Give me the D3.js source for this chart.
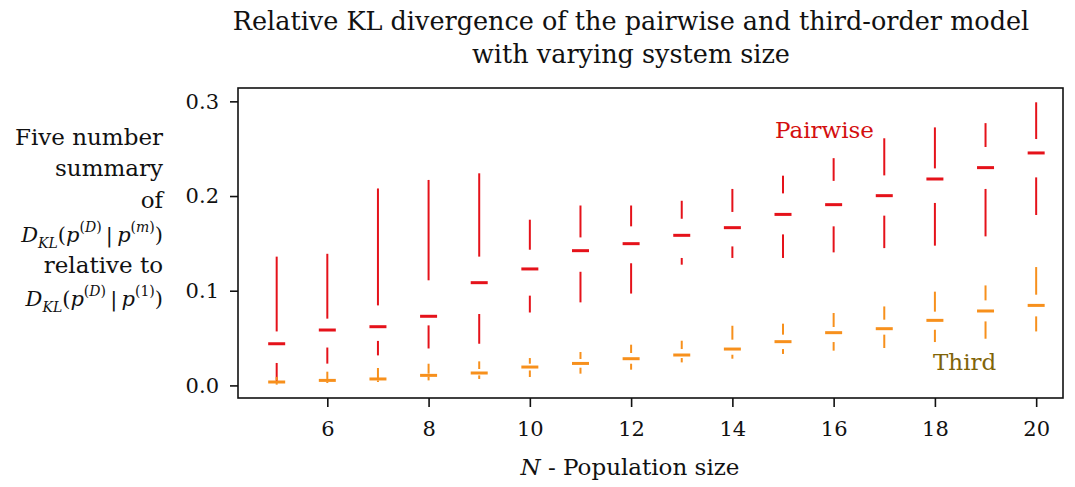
<!DOCTYPE html>
<html>
<head>
<meta charset="utf-8">
<script src="https://cdn.jsdelivr.net/npm/d3@7"></script>
<style>
  html, body { margin: 0; padding: 0; background: #fff; }
  svg text { font-family: "DejaVu Serif", serif; fill: #111; }
</style>
</head>
<body>
<svg id="chart" width="1075" height="487"></svg>
<script>
// Population sizes N
const sizes = [5, 6, 7, 8, 9, 10, 11, 12, 13, 14, 15, 16, 17, 18, 19, 20];

// Pairwise model: five number summary of the relative KL divergence
const pairMax = [0.136, 0.139, 0.208, 0.217, 0.224, 0.175, 0.190, 0.190, 0.195, 0.2075, 0.2215, 0.240, 0.261, 0.2725, 0.277, 0.299];
const pairQ3  = [0.057, 0.0705, 0.0845, 0.111, 0.136, 0.1433, 0.1563, 0.168, 0.176, 0.1832, 0.2028, 0.216, 0.2218, 0.2292, 0.2518, 0.2602];
const pairMed = [0.044, 0.0585, 0.062, 0.073, 0.1085, 0.123, 0.1423, 0.1497, 0.1585, 0.1666, 0.1806, 0.1909, 0.2004, 0.218, 0.230, 0.2455];
const pairQ1  = [0.0237, 0.040, 0.047, 0.0634, 0.0754, 0.0948, 0.120, 0.129, 0.1346, 0.1468, 0.1595, 0.168, 0.1793, 0.1927, 0.2075, 0.2197];
const pairMin = [0.003, 0.023, 0.0317, 0.039, 0.044, 0.077, 0.0877, 0.097, 0.1275, 0.1346, 0.1346, 0.1405, 0.145, 0.1476, 0.1574, 0.180];

// Third-order model: five number summary of the relative KL divergence
const thirdMax = [0.009, 0.0145, 0.0184, 0.0229, 0.0254, 0.0289, 0.0353, 0.043, 0.0472, 0.063, 0.0652, 0.0765, 0.0834, 0.099, 0.1056, 0.125];
const thirdQ3  = [0.0055, 0.0068, 0.0078, 0.0124, 0.0173, 0.0229, 0.0279, 0.0342, 0.0384, 0.0483, 0.0536, 0.0617, 0.0694, 0.0779, 0.0898, 0.0958];
const thirdMed = [0.0036, 0.0053, 0.0068, 0.0106, 0.0131, 0.0194, 0.0232, 0.0282, 0.0321, 0.0384, 0.0462, 0.0557, 0.0599, 0.0687, 0.0786, 0.0845];
const thirdQ1  = [0.0025, 0.0039, 0.0053, 0.0089, 0.0106, 0.0158, 0.0187, 0.0229, 0.0289, 0.0324, 0.0384, 0.0458, 0.0536, 0.0588, 0.0676, 0.0729];
const thirdMin = [0.0008, 0.0025, 0.0036, 0.0053, 0.0068, 0.0089, 0.0124, 0.0166, 0.0243, 0.0282, 0.0332, 0.0367, 0.0395, 0.0458, 0.0493, 0.057];

const xTicks = [6, 8, 10, 12, 14, 16, 18, 20];
const yTicks = [0.0, 0.1, 0.2, 0.3];

const svg = d3.select("#chart");
const plotLeft = 238, plotRight = 1063, plotTop = 88, plotBottom = 398;

const x = d3.scaleLinear().domain([4.236, 20.53]).range([plotLeft, plotRight]);
const y = d3.scaleLinear().domain([-0.0133, 0.3141]).range([plotBottom, plotTop]);

const pairColor = "#e5121a";
const thirdColor = "#f7901c";

// Tufte-style box plots: whiskers from quartile to extreme, dash at the median
function drawSeries(cls, color, mx, q3, md, q1, mn) {
  const rows = sizes.map((n, i) => ({ n, max: mx[i], q3: q3[i], med: md[i], q1: q1[i], min: mn[i] }));
  const g = svg.append("g").attr("class", cls);
  const box = g.selectAll("g").data(rows).join("g");
  box.append("line")
    .attr("x1", d => x(d.n)).attr("x2", d => x(d.n))
    .attr("y1", d => y(d.q3)).attr("y2", d => y(d.max))
    .attr("stroke", color).attr("stroke-width", 2);
  box.append("line")
    .attr("x1", d => x(d.n)).attr("x2", d => x(d.n))
    .attr("y1", d => y(d.min)).attr("y2", d => y(d.q1))
    .attr("stroke", color).attr("stroke-width", 2);
  box.append("line")
    .attr("x1", d => x(d.n) - 8.5).attr("x2", d => x(d.n) + 8.5)
    .attr("y1", d => y(d.med)).attr("y2", d => y(d.med))
    .attr("stroke", color).attr("stroke-width", 3);
}

drawSeries("pairwise", pairColor, pairMax, pairQ3, pairMed, pairQ1, pairMin);
drawSeries("third", thirdColor, thirdMax, thirdQ3, thirdMed, thirdQ1, thirdMin);

// Axes frame
svg.append("rect")
  .attr("x", plotLeft).attr("y", plotTop)
  .attr("width", plotRight - plotLeft).attr("height", plotBottom - plotTop)
  .attr("fill", "none").attr("stroke", "#111").attr("stroke-width", 1.6);

const xAxis = svg.append("g")
  .attr("transform", `translate(0,${plotBottom})`)
  .call(d3.axisBottom(x).tickValues(xTicks).tickFormat(d3.format("d")).tickSize(9).tickPadding(14));
const yAxis = svg.append("g")
  .attr("transform", `translate(${plotLeft},0)`)
  .call(d3.axisLeft(y).tickValues(yTicks).tickFormat(d3.format(".1f")).tickSize(8).tickPadding(11));
[xAxis, yAxis].forEach(a => {
  a.select(".domain").remove();
  a.selectAll(".tick line").attr("stroke", "#111").attr("stroke-width", 1.6);
  a.selectAll(".tick text").attr("font-family", "DejaVu Serif").attr("font-size", 21).attr("fill", "#111");
});

// Title
const title = svg.append("text").attr("text-anchor", "middle").attr("font-size", 25.5);
title.append("tspan").attr("x", 631).attr("y", 30).text("Relative KL divergence of the pairwise and third-order model");
title.append("tspan").attr("x", 631).attr("y", 63).text("with varying system size");

// X axis label
const xl = svg.append("text").attr("x", 630).attr("y", 475).attr("text-anchor", "middle").attr("font-size", 23);
xl.append("tspan").attr("font-style", "italic").text("N");
xl.append("tspan").text(" - Population size");

// Y axis label (right aligned block)
const labX = 163;
const plain = [["Five number", 145], ["summary", 176], ["of", 208], ["relative to", 273]];
plain.forEach(([t, yy]) => {
  svg.append("text").attr("x", labX).attr("y", yy).attr("text-anchor", "end").attr("font-size", 23).text(t);
});

function klLine(yy, model) {
  const t = svg.append("text").attr("x", labX).attr("y", yy).attr("text-anchor", "end").attr("font-size", 21);
  t.append("tspan").attr("font-style", "italic").text("D");
  t.append("tspan").attr("font-style", "italic").attr("font-size", 14).attr("dy", 6).text("KL");
  t.append("tspan").attr("dy", -6).text("(");
  t.append("tspan").attr("font-style", "italic").text("p");
  t.append("tspan").attr("font-size", 14).attr("dy", -10).text("(");
  t.append("tspan").attr("font-size", 14).attr("font-style", "italic").text("D");
  t.append("tspan").attr("font-size", 14).text(")");
  t.append("tspan").attr("dy", 10).text("\u2009|\u2009");
  t.append("tspan").attr("font-style", "italic").text("p");
  t.append("tspan").attr("font-size", 14).attr("dy", -10).text("(");
  t.append("tspan").attr("font-size", 14).attr("font-style", model === "m" ? "italic" : "normal").text(model);
  t.append("tspan").attr("font-size", 14).text(")");
  t.append("tspan").attr("dy", 10).text(")");
}
klLine(242, "m");
klLine(306, "1");

// Series labels
svg.append("text").attr("x", 775).attr("y", 138).attr("font-size", 23).style("fill", "#d40f0f").text("Pairwise");
svg.append("text").attr("x", 933).attr("y", 370).attr("font-size", 23).style("fill", "#7f6408").text("Third");
</script>
</body>
</html>
